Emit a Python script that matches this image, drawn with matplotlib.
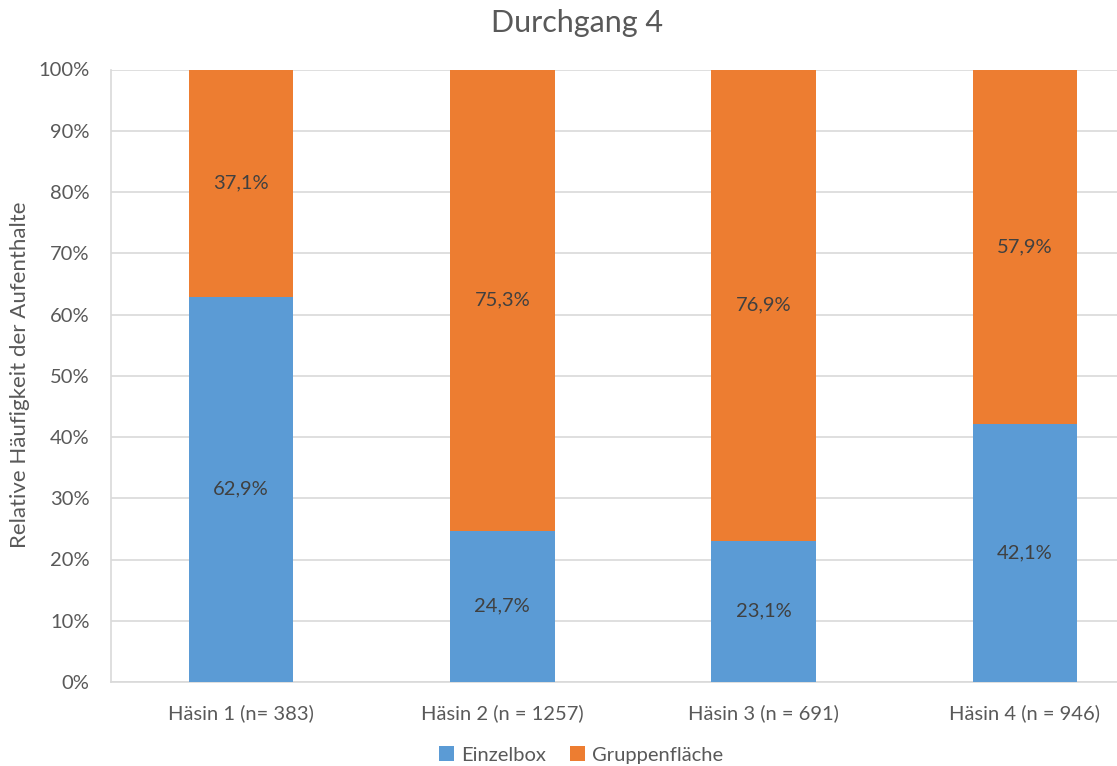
import matplotlib
matplotlib.use("Agg")
import matplotlib.pyplot as plt
import numpy as np

plt.rcParams['font.family'] = ['Lato', 'DejaVu Sans']

categories = ["Häsin 1 (n= 383)", "Häsin 2 (n = 1257)", "Häsin 3 (n = 691)", "Häsin 4 (n = 946)"]
einzelbox = [62.9, 24.7, 23.1, 42.1]
gruppenflaeche = [37.1, 75.3, 76.9, 57.9]
series_names = ["Einzelbox", "Gruppenfläche"]
y_ticks = [0, 10, 20, 30, 40, 50, 60, 70, 80, 90, 100]

BLUE = "#5B9BD5"
ORANGE = "#ED7D31"
TEXT = "#595959"
GRID = "#D9D9D9"

W, H = 1117, 766
fig = plt.figure(figsize=(W / 100, H / 100), dpi=100)
# plot area: the category axis runs past the right edge of the canvas
ax = fig.add_axes([110.5 / W, 84 / H, 1045 / W, 612.5 / H])

x = np.arange(len(categories))
bw = 0.4
b1 = ax.bar(x, einzelbox, width=bw, color=BLUE, label=series_names[0], zorder=3)
b2 = ax.bar(x, gruppenflaeche, width=bw, bottom=einzelbox, color=ORANGE,
            label=series_names[1], zorder=3)

for xi, (a, b) in enumerate(zip(einzelbox, gruppenflaeche)):
    ax.text(xi, a / 2, f"{a:.1f}%".replace(".", ","), ha="center", va="center",
            fontsize=14.5, color="#404040", zorder=4)
    ax.text(xi, a + b / 2, f"{b:.1f}%".replace(".", ","), ha="center", va="center",
            fontsize=14.5, color="#404040", zorder=4)

ax.set_xlim(-0.5, len(categories) - 0.5)
ax.set_ylim(0, 100)
ax.set_yticks(y_ticks)
ax.set_yticklabels([f"{t}%" for t in y_ticks])
ax.set_xticks(x)
ax.set_xticklabels(categories)
ax.tick_params(axis="y", length=0, pad=15, labelsize=14.5, labelcolor=TEXT)
ax.tick_params(axis="x", length=0, pad=16, labelsize=14.5, labelcolor=TEXT)
ax.yaxis.grid(True, color=GRID, linewidth=1.2, zorder=0)
ax.set_axisbelow(True)
for side in ("top", "right"):
    ax.spines[side].set_visible(False)
for side in ("left", "bottom"):
    ax.spines[side].set_color(GRID)
    ax.spines[side].set_linewidth(1.2)

fig.text(577 / W, 1 - 23 / H, "Durchgang 4", ha="center", va="center",
         fontsize=22, color=TEXT)
fig.text(20 / W, 1 - 375 / H, "Relative Häufigkeit der Aufenthalte", ha="center",
         va="center", rotation=90, fontsize=16, color=TEXT)

leg = fig.legend(handles=[b1, b2], labels=series_names, loc="center",
                 bbox_to_anchor=(581 / W, 11 / H), ncol=2, frameon=False,
                 fontsize=14.5, handlelength=0.75, handleheight=0.75,
                 handletextpad=0.35, columnspacing=1.2)
for t in leg.get_texts():
    t.set_color(TEXT)

fig.savefig("out.png", dpi=100)
